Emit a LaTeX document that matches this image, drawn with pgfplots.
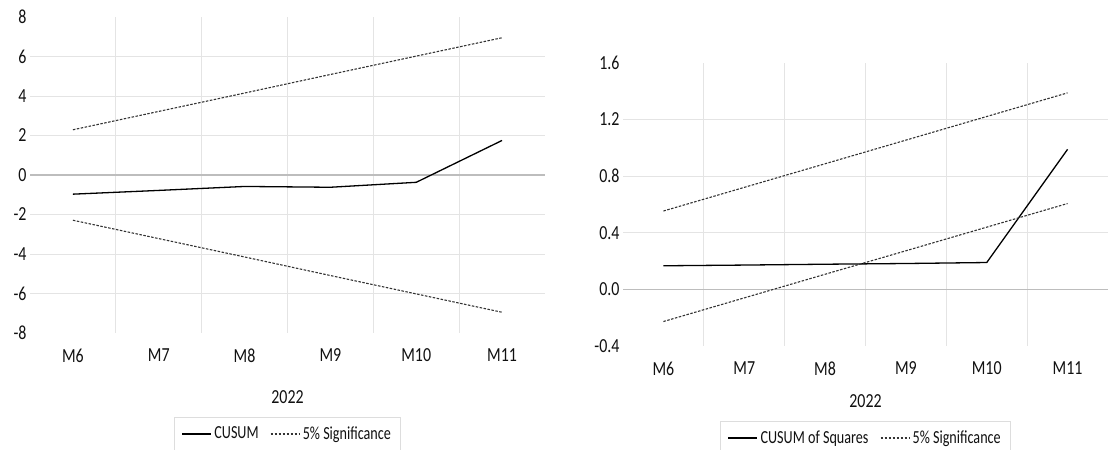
\documentclass[border=0pt]{standalone}
\usepackage{fontspec}
\setmainfont{Carlito}
\usepackage{pgfplots}
\pgfplotsset{compat=1.18}
\definecolor{gridc}{HTML}{E4E4E4}
\definecolor{zeroc}{HTML}{BDBDBD}
\definecolor{legc}{HTML}{DDDDDD}
\definecolor{dashc}{HTML}{333333}
\definecolor{txt}{HTML}{111111}
\pgfplotsset{
  cs/.style={
    scale only axis,
    xmin=-0.5, xmax=5.5,
    xtick={0,...,5},
    xticklabels={M6,M7,M8,M9,M10,M11},
    minor xtick={0.5,1.5,2.5,3.5,4.5},
    xminorgrids, yminorgrids,
    minor grid style={gridc, line width=0.9bp},
    axis line style={draw=none},
    major tick length=0pt, minor tick length=0pt,
    tick style={draw=none},
    ticklabel style={font=\fontsize{16}{19}\selectfont, text=txt, yscale=1.25},
    xticklabel style={anchor=center, yshift=-18bp},
    extra y ticks={0}, extra y tick labels={},
    extra y tick style={grid=major, major grid style={zeroc, line width=1.1bp}},
    xlabel={2022},
    xlabel style={at={(axis description cs:0.5,0)}, anchor=center, font=\fontsize{16}{19}\selectfont, text=txt, yscale=1.25},
    legend columns=2,
    legend style={at={(axis description cs:0.5,0)}, anchor=north, draw=legc, line width=0.8bp,
      inner xsep=7bp, inner ysep=6bp,
      font=\fontsize{14.2}{16}\selectfont, text=txt,
      nodes={yscale=1.3, inner sep=2.5bp},
      /tikz/every even column/.append style={column sep=9bp}},
    legend image code/.code={\draw[#1] (0bp,0bp) -- (29bp,0bp);},
  },
  sig/.style={dashc, line width=1.1bp, dash pattern=on 2.5bp off 1.5bp},
  main/.style={black, line width=1.3bp},
}
\begin{document}
\begin{tikzpicture}
\path[use as bounding box] (0,0) rectangle (1108bp,-450bp);
\begin{axis}[cs,
  at={(30bp,-17bp)}, anchor=north west,
  width=515bp, height=316bp,
  ymin=-8, ymax=8,
  ytick={-8,-6,-4,-2,0,2,4,6,8},
  yticklabels={-8,-6,-4,-2,0,2,4,6,8},
  minor ytick={-6,-4,-2,2,4,6},
  xlabel style={yshift=-51bp},
  legend style={yshift=-84bp},
]
\addplot[main] coordinates {(0,-0.97) (1,-0.78) (2,-0.58) (3,-0.62) (4,-0.37) (5,1.75)};
\addlegendentry{CUSUM}
\addplot[sig] coordinates {(0,2.29) (1,3.22) (2,4.15) (3,5.09) (4,6.02) (5,6.95)};
\addlegendentry{5\% Significance}
\addplot[sig, forget plot] coordinates {(0,-2.29) (1,-3.22) (2,-4.15) (3,-5.09) (4,-6.02) (5,-6.95)};
\end{axis}
\begin{axis}[cs,
  at={(623bp,-63bp)}, anchor=north west,
  width=485bp, height=283bp,
  ymin=-0.4, ymax=1.6,
  ytick={-0.4,0,0.4,0.8,1.2,1.6},
  yticklabels={-0.4,0.0,0.4,0.8,1.2,1.6},
  minor ytick={0.4,0.8,1.2},
  xlabel style={yshift=-44bp},
  legend style={yshift=-75bp},
]
\addplot[main] coordinates {(0,0.167) (1,0.172) (2,0.178) (3,0.183) (4,0.190) (5,0.99)};
\addlegendentry{CUSUM of Squares}
\addplot[sig] coordinates {(0,0.554) (1,0.721) (2,0.888) (3,1.055) (4,1.222) (5,1.389)};
\addlegendentry{5\% Significance}
\addplot[sig, forget plot] coordinates {(0,-0.227) (1,-0.060) (2,0.107) (3,0.273) (4,0.440) (5,0.607)};
\end{axis}
\end{tikzpicture}
\end{document}
